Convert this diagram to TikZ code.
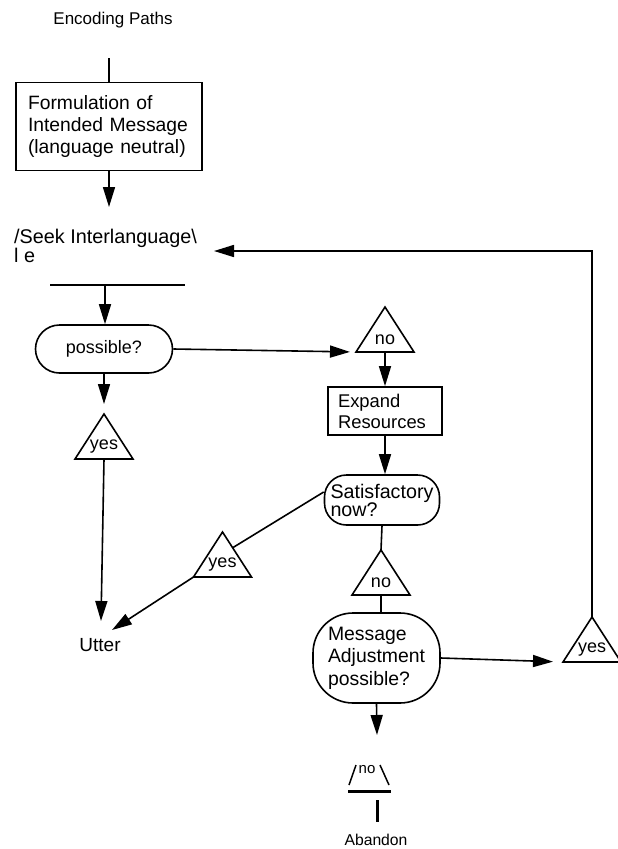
\documentclass[tikz,border=0pt]{standalone}
\usepackage{fontspec}
\setmainfont{Liberation Sans}
\usetikzlibrary{arrows.meta,calc}
\begin{document}
\begin{tikzpicture}[x=1pt,y=-1pt,
  line/.style={line width=1.6pt},
  arr/.style={line width=1.6pt,-{Triangle[length=20pt,width=12pt]}},
  box/.style={draw,line width=1.7pt,align=left,inner sep=0pt,font=\fontsize{19.3}{22}\selectfont},
  term/.style={draw,line width=1.6pt,rounded corners=#1,align=left,inner sep=0pt},
  lbl/.style={font=\fontsize{17}{20}\selectfont,inner sep=0pt},
  tri/.pic={
    \draw[line width=1.6pt] (-29,0) coordinate (-bl) -- (0,-45) coordinate (-apex)
      -- (29,0) coordinate (-br) -- cycle;
    \coordinate (-base) at (0,0);
    \node[font=\fontsize{18}{20}\selectfont,inner sep=0pt] at (0,-12) {#1};
  }]
\useasboundingbox (0,0) rectangle (618,849);

% top
\node[lbl] (enc) at (113,20) {Encoding Paths};
\coordinate (topin) at (109,58);
\node[box,minimum width=186pt,minimum height=88pt,text width=162pt,inner xsep=12pt] (form) at (109,126.5)
  {Formulation of\\Intended Message\\(language neutral)};
\draw[line] (topin) -- (form.north);
\coordinate (seekin) at (109,207);
\draw[arr] (form.south) -- (seekin);

\node[font=\fontsize{19.8}{19}\selectfont,align=left,inner sep=0pt,anchor=north west] (seek) at (14,229)
  {/Seek Interlanguage\textbackslash\\l e};
\draw[line] (50,285) coordinate (sl) -- (185,285) coordinate (sr);
\coordinate (seekout) at (105,285);

% possible?
\node[term=24pt,minimum width=137pt,minimum height=48pt,align=center,font=\fontsize{18}{20}\selectfont] (poss) at (104,349) {possible?};
\draw[arr] (seekout) -- (seekout |- poss.north);

\pic (yes1) at (104,459) {tri=yes};
\draw[arr,shorten >=10pt] (poss.south) -- (yes1-apex);

\node[font=\fontsize{19}{20}\selectfont,inner sep=0pt] (utter) at (100,645) {Utter};
\coordinate (utin) at (101,621);
\coordinate (utin2) at (112,630);
\draw[arr] (yes1-base) -- (utin);

% no branch
\pic (no1) at (385,352) {tri=no};
\draw[arr,shorten >=6pt] (poss.east) -- (no1-bl);

\node[box,minimum width=114pt,minimum height=48pt,text width=94pt,inner xsep=10pt,font=\fontsize{18.4}{21}\selectfont] (exp) at (385,411) {Expand\\Resources};
\draw[arr] (no1-base) -- (no1-base |- exp.north);

\node[term=22pt,minimum width=115pt,minimum height=50pt,text width=103pt,inner xsep=6pt,font=\fontsize{19.7}{18}\selectfont] (sat) at (382,500) {Satisfactory\\now?};
\draw[arr] (exp.south) -- (exp.south |- sat.north);

\pic (yes2) at (222.5,577) {tri=yes};
\draw[line] ([yshift=8pt]sat.west) -- ($(yes2-apex)!0.35!(yes2-br)$);
\draw[arr] (yes2-bl) -- (utin2);

\pic (no2) at (381,595) {tri=no};
\draw[line] (sat.south) -- (no2-apex);

\node[term=40pt,minimum width=127pt,minimum height=90pt,text width=97pt,inner xsep=15pt,font=\fontsize{19.4}{22.5}\selectfont] (msg) at (376.5,658) {Message\\Adjustment\\possible?};
\draw[line] (no2-base) -- (no2-base |- msg.north);

\pic (yes3) at (592,662) {tri=yes};
\draw[arr,shorten >=10pt] (msg.east) -- (yes3-bl);
\coordinate (ret) at (214,251);
\draw[arr] (yes3-apex) |- (ret);

% abandon
\coordinate (abin) at (377,735);
\draw[arr] (msg.south) -- (abin);
\draw[line width=1.5pt] (349,785) -- (356,765);
\node[font=\fontsize{15}{15}\selectfont,inner sep=0pt] (abno) at (367,770) {no};
\draw[line width=1.5pt] (380,765) -- (389,785);
\draw[line width=3pt] (348,791) coordinate (abl) -- (391,791) coordinate (abr);
\draw[line width=3pt] (377,800) coordinate (abt) -- (377,822) coordinate (abb);
\node[font=\fontsize{15.7}{18}\selectfont,inner sep=0pt] (aband) at (376,840) {Abandon};
\end{tikzpicture}
\end{document}
